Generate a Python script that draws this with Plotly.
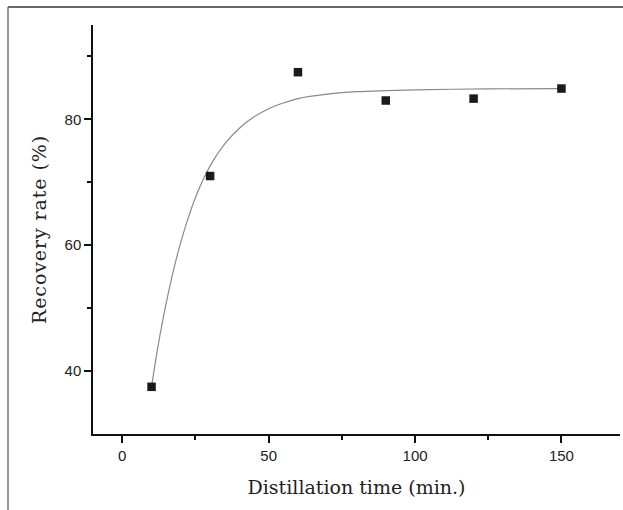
import plotly.graph_objects as go

# measured data
time_min = [10, 30, 60, 90, 120, 150]
recovery = [37.5, 71.0, 87.5, 83.0, 83.3, 84.9]

# fitted curve
curve_t = [10, 12, 14, 16, 18, 20, 22, 25, 28, 31, 35, 40, 45, 50, 55, 60, 70, 80, 100, 125, 150]
curve_y = [37.5, 43.4, 48.5, 53.0, 57.0, 60.5, 63.6, 67.6, 70.8, 73.4, 76.1, 78.6, 80.4, 81.7, 82.6,
           83.3, 84.0, 84.4, 84.7, 84.85, 84.9]

x_ticks = [0, 50, 100, 150]
y_ticks = [40, 60, 80]

fig = go.Figure()
fig.add_trace(go.Scatter(x=curve_t, y=curve_y, mode="lines",
                         line=dict(color="#8a8a8a", width=1.2, shape="spline", smoothing=0.8),
                         showlegend=False, hoverinfo="skip"))
fig.add_trace(go.Scatter(x=time_min, y=recovery, mode="markers",
                         marker=dict(symbol="square", size=8.5, color="#1a1a1a"),
                         showlegend=False))

axis_common = dict(showline=True, linecolor="#111", linewidth=1.5, ticks="outside",
                   tickcolor="#111", tickwidth=1.5, ticklen=7, showgrid=False, zeroline=False,
                   tickfont=dict(family="Liberation Sans, Arial, sans-serif", size=15, color="#222"))

fig.update_xaxes(range=[-10, 170], tickmode="array", tickvals=x_ticks,
                 minor=dict(tickmode="array", tickvals=[25, 75, 125], ticklen=4,
                            tickcolor="#111", tickwidth=1.5, ticks="outside"),
                 title=dict(text="Distillation time (min.)", standoff=18,
                            font=dict(family="DejaVu Serif, serif", size=19, color="#222")),
                 **axis_common)
fig.update_yaxes(range=[30, 95], tickmode="array", tickvals=y_ticks,
                 minor=dict(tickmode="array", tickvals=[50, 70, 90], ticklen=4,
                            tickcolor="#111", tickwidth=1.5, ticks="outside"),
                 title=dict(text='<span style="letter-spacing:0.9px">Recovery rate (%)</span>', standoff=13,
                            font=dict(family="DejaVu Serif, serif", size=19, color="#222")),
                 **axis_common)

# outer frame lines (paper coords relative to plot area)
L, R, T, B = 93, 3, 25, 76
W, H = 623 - L - R, 510 - T - B
def px(x):
    return (x - L) / W
def py(y):
    return 1 - (y - T) / H

fig.add_shape(type="line", xref="paper", yref="paper", x0=px(8), x1=px(623), y0=py(7), y1=py(7),
              line=dict(color="#333", width=1.5))
fig.add_shape(type="line", xref="paper", yref="paper", x0=px(8), x1=px(8), y0=py(7), y1=py(510),
              line=dict(color="#777", width=1.5))

fig.update_layout(width=623, height=510, margin=dict(l=L, r=R, t=T, b=B),
                  paper_bgcolor="white", plot_bgcolor="white")

fig.write_html("out.html")
